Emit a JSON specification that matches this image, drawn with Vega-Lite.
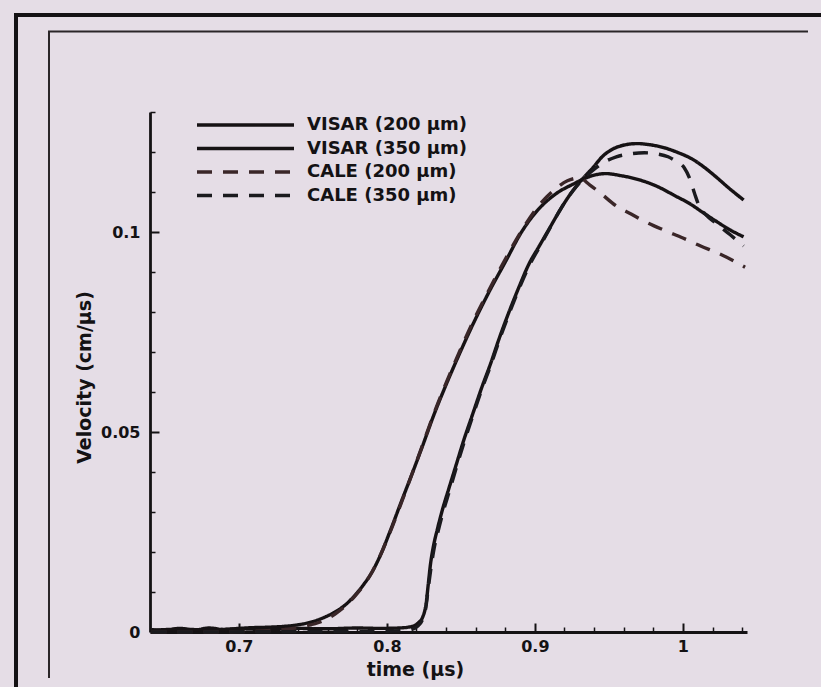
{
  "$schema": "https://vega.github.io/schema/vega-lite/v6.json",
  "width": 597,
  "height": 520,
  "autosize": {"type": "none"},
  "padding": {"left": 150, "top": 112, "right": 74, "bottom": 55},
  "background": "#e5dde6",
  "config": {
    "view": {"stroke": null},
    "font": "DejaVu Sans",
    "axis": {
      "grid": false,
      "domainColor": "#141214",
      "domainWidth": 2.8,
      "tickColor": "#141214",
      "labelFont": "DejaVu Sans",
      "labelFontWeight": "bold",
      "labelFontSize": 16,
      "labelColor": "#141214",
      "titleFont": "DejaVu Sans",
      "titleFontWeight": "bold",
      "titleFontSize": 19,
      "titleColor": "#141214"
    }
  },
  "datasets": {
    "curves": [
      {"series": "VISAR (200 μm)", "time": 0.641, "velocity": 0.0006},
      {"series": "VISAR (200 μm)", "time": 0.650, "velocity": 0.0004},
      {"series": "VISAR (200 μm)", "time": 0.660, "velocity": 0.0009},
      {"series": "VISAR (200 μm)", "time": 0.670, "velocity": 0.0005},
      {"series": "VISAR (200 μm)", "time": 0.680, "velocity": 0.0010},
      {"series": "VISAR (200 μm)", "time": 0.690, "velocity": 0.0006},
      {"series": "VISAR (200 μm)", "time": 0.700, "velocity": 0.0009},
      {"series": "VISAR (200 μm)", "time": 0.710, "velocity": 0.0011},
      {"series": "VISAR (200 μm)", "time": 0.720, "velocity": 0.0012},
      {"series": "VISAR (200 μm)", "time": 0.730, "velocity": 0.0014},
      {"series": "VISAR (200 μm)", "time": 0.740, "velocity": 0.0018},
      {"series": "VISAR (200 μm)", "time": 0.750, "velocity": 0.0026},
      {"series": "VISAR (200 μm)", "time": 0.758, "velocity": 0.0037},
      {"series": "VISAR (200 μm)", "time": 0.765, "velocity": 0.0050},
      {"series": "VISAR (200 μm)", "time": 0.772, "velocity": 0.0068},
      {"series": "VISAR (200 μm)", "time": 0.778, "velocity": 0.0090},
      {"series": "VISAR (200 μm)", "time": 0.784, "velocity": 0.0117},
      {"series": "VISAR (200 μm)", "time": 0.790, "velocity": 0.0150},
      {"series": "VISAR (200 μm)", "time": 0.796, "velocity": 0.0195},
      {"series": "VISAR (200 μm)", "time": 0.802, "velocity": 0.0250},
      {"series": "VISAR (200 μm)", "time": 0.810, "velocity": 0.0328},
      {"series": "VISAR (200 μm)", "time": 0.817, "velocity": 0.0395},
      {"series": "VISAR (200 μm)", "time": 0.824, "velocity": 0.0464},
      {"series": "VISAR (200 μm)", "time": 0.832, "velocity": 0.0545},
      {"series": "VISAR (200 μm)", "time": 0.840, "velocity": 0.0618},
      {"series": "VISAR (200 μm)", "time": 0.849, "velocity": 0.0695},
      {"series": "VISAR (200 μm)", "time": 0.858, "velocity": 0.0768},
      {"series": "VISAR (200 μm)", "time": 0.869, "velocity": 0.0850},
      {"series": "VISAR (200 μm)", "time": 0.880, "velocity": 0.0925},
      {"series": "VISAR (200 μm)", "time": 0.891, "velocity": 0.1000},
      {"series": "VISAR (200 μm)", "time": 0.902, "velocity": 0.1055},
      {"series": "VISAR (200 μm)", "time": 0.914, "velocity": 0.1095},
      {"series": "VISAR (200 μm)", "time": 0.926, "velocity": 0.1120},
      {"series": "VISAR (200 μm)", "time": 0.938, "velocity": 0.1140},
      {"series": "VISAR (200 μm)", "time": 0.948, "velocity": 0.1146},
      {"series": "VISAR (200 μm)", "time": 0.958, "velocity": 0.1141},
      {"series": "VISAR (200 μm)", "time": 0.970, "velocity": 0.1131},
      {"series": "VISAR (200 μm)", "time": 0.982, "velocity": 0.1115},
      {"series": "VISAR (200 μm)", "time": 0.995, "velocity": 0.1090},
      {"series": "VISAR (200 μm)", "time": 1.005, "velocity": 0.1070},
      {"series": "VISAR (200 μm)", "time": 1.013, "velocity": 0.1050},
      {"series": "VISAR (200 μm)", "time": 1.022, "velocity": 0.1028},
      {"series": "VISAR (200 μm)", "time": 1.032, "velocity": 0.1005},
      {"series": "VISAR (200 μm)", "time": 1.041, "velocity": 0.0988},

      {"series": "VISAR (350 μm)", "time": 0.641, "velocity": 0.0004},
      {"series": "VISAR (350 μm)", "time": 0.660, "velocity": 0.0007},
      {"series": "VISAR (350 μm)", "time": 0.680, "velocity": 0.0005},
      {"series": "VISAR (350 μm)", "time": 0.700, "velocity": 0.0008},
      {"series": "VISAR (350 μm)", "time": 0.720, "velocity": 0.0006},
      {"series": "VISAR (350 μm)", "time": 0.740, "velocity": 0.0009},
      {"series": "VISAR (350 μm)", "time": 0.760, "velocity": 0.0008},
      {"series": "VISAR (350 μm)", "time": 0.780, "velocity": 0.0010},
      {"series": "VISAR (350 μm)", "time": 0.795, "velocity": 0.0009},
      {"series": "VISAR (350 μm)", "time": 0.808, "velocity": 0.0010},
      {"series": "VISAR (350 μm)", "time": 0.816, "velocity": 0.0013},
      {"series": "VISAR (350 μm)", "time": 0.821, "velocity": 0.0022},
      {"series": "VISAR (350 μm)", "time": 0.8245, "velocity": 0.0040},
      {"series": "VISAR (350 μm)", "time": 0.8265, "velocity": 0.0070},
      {"series": "VISAR (350 μm)", "time": 0.8280, "velocity": 0.0120},
      {"series": "VISAR (350 μm)", "time": 0.8295, "velocity": 0.0170},
      {"series": "VISAR (350 μm)", "time": 0.8315, "velocity": 0.0215},
      {"series": "VISAR (350 μm)", "time": 0.8340, "velocity": 0.0255},
      {"series": "VISAR (350 μm)", "time": 0.8375, "velocity": 0.0305},
      {"series": "VISAR (350 μm)", "time": 0.8420, "velocity": 0.0360},
      {"series": "VISAR (350 μm)", "time": 0.8470, "velocity": 0.0420},
      {"series": "VISAR (350 μm)", "time": 0.8520, "velocity": 0.0480},
      {"series": "VISAR (350 μm)", "time": 0.8580, "velocity": 0.0545},
      {"series": "VISAR (350 μm)", "time": 0.8640, "velocity": 0.0610},
      {"series": "VISAR (350 μm)", "time": 0.8700, "velocity": 0.0670},
      {"series": "VISAR (350 μm)", "time": 0.8760, "velocity": 0.0735},
      {"series": "VISAR (350 μm)", "time": 0.8820, "velocity": 0.0795},
      {"series": "VISAR (350 μm)", "time": 0.8890, "velocity": 0.0860},
      {"series": "VISAR (350 μm)", "time": 0.8960, "velocity": 0.0920},
      {"series": "VISAR (350 μm)", "time": 0.9030, "velocity": 0.0965},
      {"series": "VISAR (350 μm)", "time": 0.9100, "velocity": 0.1010},
      {"series": "VISAR (350 μm)", "time": 0.9170, "velocity": 0.1055},
      {"series": "VISAR (350 μm)", "time": 0.9250, "velocity": 0.1100},
      {"series": "VISAR (350 μm)", "time": 0.9320, "velocity": 0.1132},
      {"series": "VISAR (350 μm)", "time": 0.9390, "velocity": 0.1160},
      {"series": "VISAR (350 μm)", "time": 0.9460, "velocity": 0.1190},
      {"series": "VISAR (350 μm)", "time": 0.9530, "velocity": 0.1208},
      {"series": "VISAR (350 μm)", "time": 0.9610, "velocity": 0.1218},
      {"series": "VISAR (350 μm)", "time": 0.9690, "velocity": 0.1221},
      {"series": "VISAR (350 μm)", "time": 0.9780, "velocity": 0.1218},
      {"series": "VISAR (350 μm)", "time": 0.9880, "velocity": 0.1210},
      {"series": "VISAR (350 μm)", "time": 0.9970, "velocity": 0.1198},
      {"series": "VISAR (350 μm)", "time": 1.0060, "velocity": 0.1183},
      {"series": "VISAR (350 μm)", "time": 1.0140, "velocity": 0.1163},
      {"series": "VISAR (350 μm)", "time": 1.0220, "velocity": 0.1139},
      {"series": "VISAR (350 μm)", "time": 1.0310, "velocity": 0.1110},
      {"series": "VISAR (350 μm)", "time": 1.0410, "velocity": 0.1080},

      {"series": "CALE (200 μm)", "time": 0.641, "velocity": 0.0},
      {"series": "CALE (200 μm)", "time": 0.700, "velocity": 0.0001},
      {"series": "CALE (200 μm)", "time": 0.730, "velocity": 0.0006},
      {"series": "CALE (200 μm)", "time": 0.745, "velocity": 0.0015},
      {"series": "CALE (200 μm)", "time": 0.755, "velocity": 0.0025},
      {"series": "CALE (200 μm)", "time": 0.765, "velocity": 0.0045},
      {"series": "CALE (200 μm)", "time": 0.772, "velocity": 0.0065},
      {"series": "CALE (200 μm)", "time": 0.778, "velocity": 0.0088},
      {"series": "CALE (200 μm)", "time": 0.784, "velocity": 0.0115},
      {"series": "CALE (200 μm)", "time": 0.790, "velocity": 0.0150},
      {"series": "CALE (200 μm)", "time": 0.796, "velocity": 0.0195},
      {"series": "CALE (200 μm)", "time": 0.802, "velocity": 0.0248},
      {"series": "CALE (200 μm)", "time": 0.810, "velocity": 0.0325},
      {"series": "CALE (200 μm)", "time": 0.817, "velocity": 0.0395},
      {"series": "CALE (200 μm)", "time": 0.824, "velocity": 0.0466},
      {"series": "CALE (200 μm)", "time": 0.832, "velocity": 0.0548},
      {"series": "CALE (200 μm)", "time": 0.840, "velocity": 0.0622},
      {"series": "CALE (200 μm)", "time": 0.849, "velocity": 0.0700},
      {"series": "CALE (200 μm)", "time": 0.858, "velocity": 0.0774},
      {"series": "CALE (200 μm)", "time": 0.869, "velocity": 0.0855},
      {"series": "CALE (200 μm)", "time": 0.880, "velocity": 0.0932},
      {"series": "CALE (200 μm)", "time": 0.891, "velocity": 0.1003},
      {"series": "CALE (200 μm)", "time": 0.902, "velocity": 0.1063},
      {"series": "CALE (200 μm)", "time": 0.913, "velocity": 0.1105},
      {"series": "CALE (200 μm)", "time": 0.922, "velocity": 0.1128},
      {"series": "CALE (200 μm)", "time": 0.930, "velocity": 0.1135},
      {"series": "CALE (200 μm)", "time": 0.937, "velocity": 0.1118},
      {"series": "CALE (200 μm)", "time": 0.945, "velocity": 0.1095},
      {"series": "CALE (200 μm)", "time": 0.955, "velocity": 0.1065},
      {"series": "CALE (200 μm)", "time": 0.965, "velocity": 0.1045},
      {"series": "CALE (200 μm)", "time": 0.975, "velocity": 0.1025},
      {"series": "CALE (200 μm)", "time": 0.987, "velocity": 0.1005},
      {"series": "CALE (200 μm)", "time": 1.000, "velocity": 0.0985},
      {"series": "CALE (200 μm)", "time": 1.012, "velocity": 0.0965},
      {"series": "CALE (200 μm)", "time": 1.025, "velocity": 0.0945},
      {"series": "CALE (200 μm)", "time": 1.042, "velocity": 0.0912},

      {"series": "CALE (350 μm)", "time": 0.641, "velocity": 0.0},
      {"series": "CALE (350 μm)", "time": 0.800, "velocity": 0.0002},
      {"series": "CALE (350 μm)", "time": 0.815, "velocity": 0.0005},
      {"series": "CALE (350 μm)", "time": 0.821, "velocity": 0.0015},
      {"series": "CALE (350 μm)", "time": 0.8245, "velocity": 0.0035},
      {"series": "CALE (350 μm)", "time": 0.8265, "velocity": 0.0065},
      {"series": "CALE (350 μm)", "time": 0.8280, "velocity": 0.0110},
      {"series": "CALE (350 μm)", "time": 0.8300, "velocity": 0.0165},
      {"series": "CALE (350 μm)", "time": 0.8320, "velocity": 0.0210},
      {"series": "CALE (350 μm)", "time": 0.8345, "velocity": 0.0250},
      {"series": "CALE (350 μm)", "time": 0.8380, "velocity": 0.0300},
      {"series": "CALE (350 μm)", "time": 0.8425, "velocity": 0.0355},
      {"series": "CALE (350 μm)", "time": 0.8475, "velocity": 0.0418},
      {"series": "CALE (350 μm)", "time": 0.8525, "velocity": 0.0478},
      {"series": "CALE (350 μm)", "time": 0.8585, "velocity": 0.0545},
      {"series": "CALE (350 μm)", "time": 0.8645, "velocity": 0.0610},
      {"series": "CALE (350 μm)", "time": 0.8705, "velocity": 0.0670},
      {"series": "CALE (350 μm)", "time": 0.8765, "velocity": 0.0735},
      {"series": "CALE (350 μm)", "time": 0.8825, "velocity": 0.0795},
      {"series": "CALE (350 μm)", "time": 0.8895, "velocity": 0.0860},
      {"series": "CALE (350 μm)", "time": 0.8965, "velocity": 0.0918},
      {"series": "CALE (350 μm)", "time": 0.9035, "velocity": 0.0965},
      {"series": "CALE (350 μm)", "time": 0.9105, "velocity": 0.1012},
      {"series": "CALE (350 μm)", "time": 0.9175, "velocity": 0.1058},
      {"series": "CALE (350 μm)", "time": 0.9255, "velocity": 0.1102},
      {"series": "CALE (350 μm)", "time": 0.9325, "velocity": 0.1132},
      {"series": "CALE (350 μm)", "time": 0.9395, "velocity": 0.1155},
      {"series": "CALE (350 μm)", "time": 0.9470, "velocity": 0.1175},
      {"series": "CALE (350 μm)", "time": 0.9550, "velocity": 0.1188},
      {"series": "CALE (350 μm)", "time": 0.9640, "velocity": 0.1195},
      {"series": "CALE (350 μm)", "time": 0.9740, "velocity": 0.1198},
      {"series": "CALE (350 μm)", "time": 0.9830, "velocity": 0.1195},
      {"series": "CALE (350 μm)", "time": 0.9900, "velocity": 0.1188},
      {"series": "CALE (350 μm)", "time": 0.9960, "velocity": 0.1175},
      {"series": "CALE (350 μm)", "time": 1.0010, "velocity": 0.1160},
      {"series": "CALE (350 μm)", "time": 1.0050, "velocity": 0.1130},
      {"series": "CALE (350 μm)", "time": 1.0080, "velocity": 0.1095},
      {"series": "CALE (350 μm)", "time": 1.0110, "velocity": 0.1065},
      {"series": "CALE (350 μm)", "time": 1.0150, "velocity": 0.1045},
      {"series": "CALE (350 μm)", "time": 1.0230, "velocity": 0.1020},
      {"series": "CALE (350 μm)", "time": 1.0320, "velocity": 0.0993},
      {"series": "CALE (350 μm)", "time": 1.0410, "velocity": 0.0965}
    ]
  },
  "layer": [
    {
      "data": {"name": "curves"},
      "mark": {"type": "line", "strokeWidth": 3.4, "interpolate": "monotone"},
      "encoding": {
        "x": {
          "field": "time",
          "type": "quantitative",
          "scale": {"domain": [0.64, 1.0433], "nice": false, "zero": false},
          "axis": {
            "orient": "bottom",
            "values": [0.7, 0.8, 0.9, 1],
            "format": "~g",
            "tickSize": -9,
            "tickWidth": 2,
            "labelPadding": 15,
            "title": "time (μs)",
            "titleX": 265,
            "titleY": 37,
            "titleAlign": "center",
            "titleBaseline": "middle"
          }
        },
        "y": {
          "field": "velocity",
          "type": "quantitative",
          "scale": {"domain": [0, 0.13], "nice": false, "zero": false},
          "axis": {
            "orient": "left",
            "values": [0, 0.05, 0.1],
            "format": "~g",
            "tickSize": -9,
            "tickWidth": 2,
            "labelPadding": 19,
            "title": "Velocity (cm/μs)",
            "titleX": -66,
            "titleY": 265,
            "titleAngle": -90,
            "titleAlign": "center",
            "titleBaseline": "middle"
          }
        },
        "color": {
          "field": "series",
          "type": "nominal",
          "scale": {
            "domain": ["VISAR (200 μm)", "VISAR (350 μm)", "CALE (200 μm)", "CALE (350 μm)"],
            "range": ["#161214", "#161214", "#3a2628", "#1a1a1e"]
          },
          "legend": {
            "title": null,
            "orient": "none",
            "legendX": 45,
            "legendY": 2,
            "padding": 0,
            "symbolType": "stroke",
            "symbolSize": 9409,
            "symbolStrokeWidth": 3.4,
            "clipHeight": 22,
            "rowPadding": 1.5,
            "labelOffset": 11,
            "labelFont": "DejaVu Sans",
            "labelFontWeight": "bold",
            "labelFontSize": 18,
            "labelColor": "#141214"
          }
        },
        "strokeDash": {
          "field": "series",
          "type": "nominal",
          "scale": {
            "domain": ["VISAR (200 μm)", "VISAR (350 μm)", "CALE (200 μm)", "CALE (350 μm)"],
            "range": [[1, 0], [1, 0], [15, 11], [15, 11]]
          },
          "legend": {
            "title": null,
            "orient": "none",
            "legendX": 45,
            "legendY": 2,
            "padding": 0,
            "symbolType": "stroke",
            "symbolSize": 9409,
            "symbolStrokeWidth": 3.4,
            "clipHeight": 22,
            "rowPadding": 1.5,
            "labelOffset": 11,
            "labelFont": "DejaVu Sans",
            "labelFontWeight": "bold",
            "labelFontSize": 18,
            "labelColor": "#141214"
          }
        }
      }
    },
    {
      "data": {"values": [{}]},
      "mark": {"type": "rule", "strokeWidth": 4, "color": "#141214"},
      "encoding": {
        "x": {
          "datum": 0.54813,
          "type": "quantitative",
          "scale": {"domain": [0.64, 1.0433], "nice": false, "zero": false},
          "axis": {
            "orient": "bottom",
            "values": [0.66, 0.68, 0.72, 0.74, 0.76, 0.78, 0.82, 0.84, 0.86, 0.88, 0.92, 0.94, 0.96, 0.98, 1.02, 1.04],
            "labels": false,
            "domain": false,
            "tickSize": -5,
            "tickWidth": 1.5,
            "title": null
          }
        },
        "x2": {"datum": 1.096},
        "y": {
          "datum": 0.15425,
          "type": "quantitative",
          "scale": {"domain": [0, 0.13], "nice": false, "zero": false},
          "axis": null
        }
      }
    },
    {
      "data": {"values": [{}]},
      "mark": {"type": "rule", "strokeWidth": 4, "color": "#141214"},
      "encoding": {
        "x": {
          "datum": 0.54948,
          "type": "quantitative",
          "scale": {"domain": [0.64, 1.0433], "nice": false, "zero": false},
          "axis": null
        },
        "y": {
          "datum": 0.15475,
          "type": "quantitative",
          "scale": {"domain": [0, 0.13], "nice": false, "zero": false},
          "axis": {
            "orient": "left",
            "values": [0.01, 0.02, 0.03, 0.04, 0.06, 0.07, 0.08, 0.09, 0.11, 0.12, 0.13],
            "labels": false,
            "domain": false,
            "tickSize": -5,
            "tickWidth": 1.5,
            "title": null
          }
        },
        "y2": {"datum": -0.015}
      }
    },
    {
      "data": {"values": [{}]},
      "mark": {"type": "rule", "strokeWidth": 2, "color": "#2a2628"},
      "encoding": {
        "x": {
          "datum": 0.5711,
          "type": "quantitative",
          "scale": {"domain": [0.64, 1.0433], "nice": false, "zero": false},
          "axis": null
        },
        "x2": {"datum": 1.0845},
        "y": {
          "datum": 0.150125,
          "type": "quantitative",
          "scale": {"domain": [0, 0.13], "nice": false, "zero": false},
          "axis": null
        }
      }
    },
    {
      "data": {"values": [{}]},
      "mark": {"type": "rule", "strokeWidth": 2, "color": "#2a2628"},
      "encoding": {
        "x": {
          "datum": 0.57177,
          "type": "quantitative",
          "scale": {"domain": [0.64, 1.0433], "nice": false, "zero": false},
          "axis": null
        },
        "y": {
          "datum": 0.15025,
          "type": "quantitative",
          "scale": {"domain": [0, 0.13], "nice": false, "zero": false},
          "axis": null
        },
        "y2": {"datum": -0.0115}
      }
    }
  ],
  "resolve": {"axis": {"x": "independent", "y": "independent"}}
}
